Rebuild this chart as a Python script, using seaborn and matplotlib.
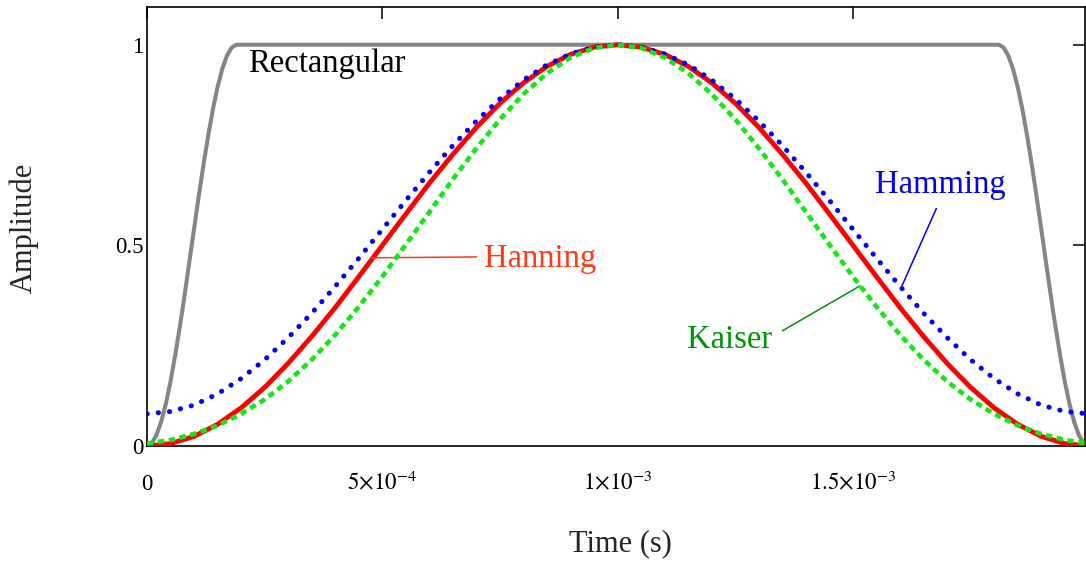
import numpy as np
import matplotlib
matplotlib.use("Agg")
import matplotlib.pyplot as plt
import seaborn as sns

# ---------------- data ----------------
time_ms = [0.00, 0.05, 0.10, 0.15, 0.20, 0.25, 0.30, 0.35, 0.40, 0.45,
           0.50, 0.55, 0.60, 0.65, 0.70, 0.75, 0.80, 0.85, 0.90, 0.95,
           1.00, 1.05, 1.10, 1.15, 1.20, 1.25, 1.30, 1.35, 1.40, 1.45,
           1.50, 1.55, 1.60, 1.65, 1.70, 1.75, 1.80, 1.85, 1.90, 1.95, 2.00]

hanning = [0.000, 0.006, 0.024, 0.054, 0.095, 0.146, 0.206, 0.273, 0.345, 0.422,
           0.500, 0.578, 0.655, 0.727, 0.794, 0.854, 0.905, 0.946, 0.976, 0.994,
           1.000, 0.994, 0.976, 0.946, 0.905, 0.854, 0.794, 0.727, 0.655, 0.578,
           0.500, 0.422, 0.345, 0.273, 0.206, 0.146, 0.095, 0.054, 0.024, 0.006, 0.000]

hamming = [0.080, 0.086, 0.102, 0.130, 0.168, 0.215, 0.270, 0.331, 0.398, 0.468,
           0.540, 0.612, 0.682, 0.749, 0.810, 0.865, 0.912, 0.950, 0.977, 0.994,
           1.000, 0.994, 0.977, 0.950, 0.912, 0.865, 0.810, 0.749, 0.682, 0.612,
           0.540, 0.468, 0.398, 0.331, 0.270, 0.215, 0.168, 0.130, 0.102, 0.086, 0.080]

kaiser = [0.006, 0.015, 0.030, 0.051, 0.080, 0.116, 0.161, 0.215, 0.277, 0.347,
          0.422, 0.502, 0.583, 0.665, 0.742, 0.814, 0.877, 0.929, 0.968, 0.992,
          1.000, 0.992, 0.968, 0.929, 0.877, 0.814, 0.742, 0.665, 0.583, 0.502,
          0.422, 0.347, 0.277, 0.215, 0.161, 0.116, 0.080, 0.051, 0.030, 0.015, 0.006]

rect_time_ms = [0.00, 0.01, 0.02, 0.03, 0.04, 0.05, 0.06, 0.07, 0.08, 0.09,
                0.10, 0.11, 0.12, 0.13, 0.14, 0.15, 0.16, 0.17, 0.18, 0.19,
                1.81, 1.82, 1.83, 1.84, 1.85, 1.86, 1.87, 1.88, 1.89, 1.90,
                1.91, 1.92, 1.93, 1.94, 1.95, 1.96, 1.97, 1.98, 1.99, 2.00]
rectangular = [0.000, 0.007, 0.027, 0.060, 0.105, 0.161, 0.227, 0.299, 0.377, 0.459,
               0.541, 0.623, 0.701, 0.773, 0.839, 0.895, 0.940, 0.973, 0.993, 1.000,
               1.000, 0.993, 0.973, 0.940, 0.895, 0.839, 0.773, 0.701, 0.623, 0.541,
               0.459, 0.377, 0.299, 0.227, 0.161, 0.105, 0.060, 0.027, 0.007, 0.000]

x_ticks = [0.0, 5e-4, 1e-3, 1.5e-3]
x_tick_labels = ["0", r"$5{\times}10^{-4}$", r"$1{\times}10^{-3}$", r"$1.5{\times}10^{-3}$"]
y_ticks = [0.0, 0.5, 1.0]
y_tick_labels = ["0", "0.5", "1"]

# ---------------- style ----------------
sns.set_theme(style="white")
plt.rcParams["font.family"] = ["Liberation Serif", "DejaVu Serif"]
plt.rcParams["mathtext.fontset"] = "stix"
plt.rcParams["axes.edgecolor"] = "black"
plt.rcParams["axes.linewidth"] = 1.2

t_s = np.array(time_ms) * 1e-3
rt_s = np.array(rect_time_ms) * 1e-3

fig = plt.figure(figsize=(10.86, 5.63), dpi=100)
ax = fig.add_axes([147 / 1086, 117 / 563, 938 / 1086, 439 / 563])

sns.lineplot(x=rt_s, y=rectangular, ax=ax, color="#858585", lw=2.9, zorder=2)
sns.lineplot(x=t_s, y=hanning, ax=ax, color="#ff0000", lw=3.5, zorder=3)
sns.lineplot(x=t_s, y=hamming, ax=ax, color="#0000ff", lw=3.6, zorder=4,
             linestyle=(0, (0.05, 2.2)), dash_capstyle="round")
sns.lineplot(x=t_s, y=kaiser, ax=ax, color="#12e812", lw=3.3, zorder=5,
             linestyle=(0, (1.4, 1.0)), dash_capstyle="butt")

ax.set_xlim(0, 1.993e-3)
ax.set_ylim(0, 1.094)

ax.set_xticks(x_ticks)
ax.set_xticklabels(x_tick_labels)
ax.set_yticks(y_ticks)
ax.set_yticklabels(y_tick_labels)
ax.tick_params(direction="in", length=8.5, width=1.1, top=True, right=True,
               labelsize=16.5, colors="black")
ax.tick_params(axis="x", pad=31.5)
ax.tick_params(axis="y", pad=2.5)
for lbl in ax.get_xticklabels():
    lbl.set_verticalalignment("baseline")

for s in ax.spines.values():
    s.set_visible(True)
    s.set_color("black")
    s.set_linewidth(1.2)

ax.set_xlabel("Time (s)", fontsize=22)
ax.set_ylabel("Amplitude", fontsize=22)
ax.xaxis.set_label_coords(0.505, -0.19)
ax.yaxis.set_label_coords(-0.115, 0.497)

# ---------------- annotations ----------------
ax.text(0.2146e-3, 0.931, "Rectangular", ha="left", va="baseline",
        fontsize=23.5, color="black")

ax.annotate("Hanning", xy=(0.478e-3, 0.469), xytext=(0.716e-3, 0.447),
            ha="left", va="baseline", fontsize=23.5, color="#ff3a14",
            arrowprops=dict(arrowstyle="-", color="#ff3a14", lw=1.1,
                            shrinkA=3, shrinkB=0, relpos=(0, 0.55)))

ax.annotate("Hamming", xy=(1.604e-3, 0.399), xytext=(1.685e-3, 0.630),
            ha="center", va="baseline", fontsize=23.5, color="#0000ff",
            arrowprops=dict(arrowstyle="-", color="#0000ff", lw=1.1,
                            shrinkA=4, shrinkB=0, relpos=(0.5, 0)))

ax.annotate("Kaiser", xy=(1.515e-3, 0.399), xytext=(1.328e-3, 0.244),
            ha="right", va="baseline", fontsize=23.5, color="#009400",
            arrowprops=dict(arrowstyle="-", color="#009400", lw=1.1,
                            shrinkA=6, shrinkB=0, relpos=(1, 0.6)))

fig.savefig("out.png", dpi=100)
